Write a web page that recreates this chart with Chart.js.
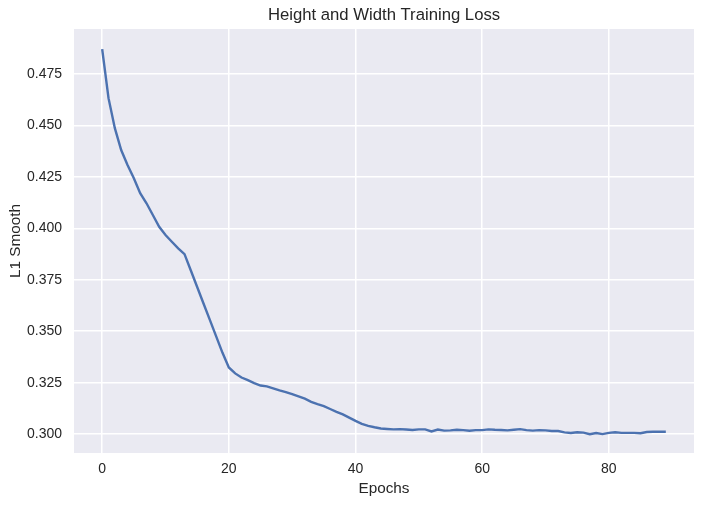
<!DOCTYPE html>
<html>
<head>
<meta charset="utf-8">
<script src="https://cdn.jsdelivr.net/npm/chart.js@4/dist/chart.umd.min.js"></script>
<style>
    html, body { margin: 0; padding: 0; background: #ffffff; }
    #wrap { width: 704px; height: 507px; }
</style>
</head>
<body>
<div id="wrap"><canvas id="lossChart" width="704" height="507"></canvas></div>
<script>
// Epoch numbers and smoothed L1 loss
const epochs = Array.from({ length: 90 }, (_, i) => i);
const lossValues = [
    0.4871, 0.4633, 0.4487, 0.4381, 0.4308, 0.4244, 0.4171, 0.4122, 0.4065, 0.4008,
    0.3968, 0.3935, 0.3903, 0.3875, 0.3795, 0.3715, 0.3635, 0.3555, 0.3475, 0.3395,
    0.3324, 0.3295, 0.3275, 0.3262, 0.3248, 0.3236, 0.3232, 0.3222, 0.3212, 0.3204,
    0.3194, 0.3183, 0.3172, 0.3157, 0.3146, 0.3136, 0.3122, 0.3108, 0.3096, 0.3080,
    0.3064, 0.3050, 0.3040, 0.3033, 0.3027, 0.3025, 0.3023, 0.3024, 0.3022, 0.3020,
    0.3023, 0.3023, 0.3013, 0.3022, 0.3017, 0.3018, 0.3021, 0.3019, 0.3016, 0.3019,
    0.3019, 0.3023, 0.3021, 0.3020, 0.3018, 0.3021, 0.3024, 0.3019, 0.3017, 0.3019,
    0.3018, 0.3015, 0.3015, 0.3008, 0.3005, 0.3009, 0.3007, 0.2999, 0.3005, 0.3000,
    0.3006, 0.3009, 0.3006, 0.3006, 0.3006, 0.3004, 0.3010, 0.3011, 0.3011, 0.3011
];
const xTicks = [0, 20, 40, 60, 80];
const yTicks = [0.300, 0.325, 0.350, 0.375, 0.400, 0.425, 0.450, 0.475];

const TEXT_COLOR = '#262626';
const FONT = "'Liberation Sans', Arial, sans-serif";

// Seaborn-like plot background behind the axes area,
// and keep the title centred over the plot rather than the whole canvas
const plotBackground = {
    id: 'plotBackground',
    afterLayout(chart) {
        if (chart.titleBlock) {
            chart.titleBlock.left = chart.chartArea.left;
            chart.titleBlock.right = chart.chartArea.right;
        }
    },
    beforeDraw(chart) {
        const { ctx, chartArea } = chart;
        ctx.save();
        ctx.fillStyle = '#EAEAF2';
        ctx.fillRect(chartArea.left, chartArea.top,
            chartArea.right - chartArea.left, chartArea.bottom - chartArea.top);
        ctx.restore();
    }
};

const ctx = document.getElementById('lossChart').getContext('2d');
new Chart(ctx, {
    type: 'line',
    data: {
        datasets: [{
            label: 'L1 Smooth',
            data: epochs.map((e, i) => ({ x: e, y: lossValues[i] })),
            borderColor: '#4C72B0',
            borderWidth: 2.4,
            pointRadius: 0,
            tension: 0,
            fill: false,
        }]
    },
    options: {
        responsive: false,
        animation: false,
        devicePixelRatio: 1,
        layout: { padding: { left: 0, right: 10, top: 0, bottom: 0 } },
        plugins: {
            legend: { display: false },
            tooltip: { enabled: false },
            title: {
                display: true,
                text: 'Height and Width Training Loss',
                color: TEXT_COLOR,
                font: { family: FONT, size: 16.7, weight: 'normal', lineHeight: 1.2 },
                padding: { top: 5, bottom: 4 }
            }
        },
        scales: {
            x: {
                type: 'linear',
                min: -4.45,
                max: 93.45,
                afterBuildTicks: (scale) => {
                    scale.ticks = xTicks.map(v => ({ value: v }));
                },
                afterFit: (scale) => { scale.height = 54; },
                grid: { color: '#ffffff', lineWidth: 1.5, drawTicks: false },
                border: { display: false },
                ticks: {
                    color: TEXT_COLOR,
                    padding: 8,
                    maxRotation: 0,
                    font: { family: FONT, size: 14 },
                    callback: (v) => String(v)
                },
                title: {
                    display: true,
                    text: 'Epochs',
                    color: TEXT_COLOR,
                    font: { family: FONT, size: 15.3 },
                    padding: { top: 0, bottom: 9 }
                }
            },
            y: {
                min: 0.2908,
                max: 0.4969,
                afterBuildTicks: (scale) => {
                    scale.ticks = yTicks.map(v => ({ value: v }));
                },
                afterFit: (scale) => { scale.width = 74; },
                grid: { color: '#ffffff', lineWidth: 1.5, drawTicks: false },
                border: { display: false },
                ticks: {
                    color: TEXT_COLOR,
                    padding: 12,
                    font: { family: FONT, size: 14 },
                    callback: (v) => v.toFixed(3)
                },
                title: {
                    display: true,
                    text: 'L1 Smooth',
                    color: TEXT_COLOR,
                    font: { family: FONT, size: 15.3 },
                    padding: { top: 7, bottom: 4 }
                }
            }
        }
    },
    plugins: [plotBackground]
});
</script>
</body>
</html>
